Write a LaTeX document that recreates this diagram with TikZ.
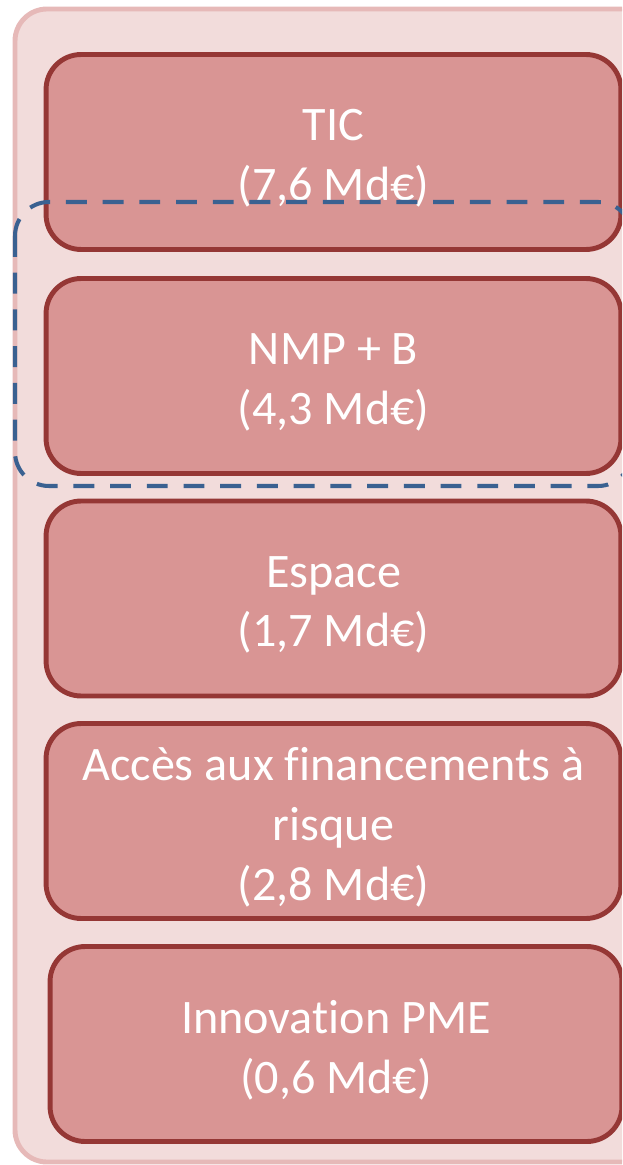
\documentclass[tikz,border=0pt]{standalone}
\usepackage{fontspec}
\setmainfont{Carlito}[Ligatures={NoCommon,NoRare,NoContextual}]

\definecolor{panelfill}{HTML}{F2DCDB}
\definecolor{panelline}{HTML}{E6B9B8}
\definecolor{boxfill}{HTML}{D99594}
\definecolor{boxline}{HTML}{953735}
\definecolor{groupline}{HTML}{3A6191}

\begin{document}
\begin{tikzpicture}[x=0.02cm, y=-0.02cm]

% Sizes of the blocks (one unit = one pixel of the drawing)
\def\boxw{11.5cm}
\def\boxh{3.9cm}
% Block styles
\tikzset{budget/.style={
        draw=boxline, fill=boxfill, line width=2.8pt,
        rounded corners=0.7cm, minimum width=\boxw, minimum height=\boxh,
        inner sep=0pt},
    amount/.style={
        align=center, text=white, inner sep=0pt,
        font=\fontsize{27.4}{34}\selectfont}, % white label, a bit below centre
    grouping/.style={
        draw=groupline, line width=2.3pt, rounded corners=0.68cm,
        dash pattern=on 11.9pt off 9pt}
        }

\useasboundingbox (0,0) rectangle (622,1165);
\clip (0,0) rectangle (622,1165);

% Background panel (cut at the right edge)
\draw[panelline, fill=panelfill, line width=2.8pt, rounded corners=0.64cm]
    (15,9) rectangle (660,1162);

% Blocks, top to bottom
\node[budget] (tic) at (333.5,152) {};
\node[budget] (nmp) at (333.5,376) {};
\node[budget] (espace) at (333.5,598.5) {};
\node[budget] (acces) at (333.5,821) {};
\node[budget, minimum width=11.44cm] (pme) at (336,1044) {};

% Texts of the blocks
\node[amount] (tic text) at ([yshift=-3.6pt]tic.center) {TIC\\(7,6 Md€)};
\node[amount] (nmp text) at ([yshift=-3.6pt]nmp.center) {NMP + B\\(4,3 Md€)};
\node[amount] (espace text) at ([yshift=-3.6pt]espace.center) {Espace\\(1,7 Md€)};
\node[amount] (acces text) at ([yshift=-3.6pt]acces.center) {Accès aux financements à\\risque\\(2,8 Md€)};
\node[amount] (pme text) at ([yshift=-3.6pt]pme.center) {Innovation PME\\(0,6 Md€)};

% Dashed frame around NMP + B
\draw[grouping] (15,202) rectangle (632,486);

\end{tikzpicture}
\end{document}
